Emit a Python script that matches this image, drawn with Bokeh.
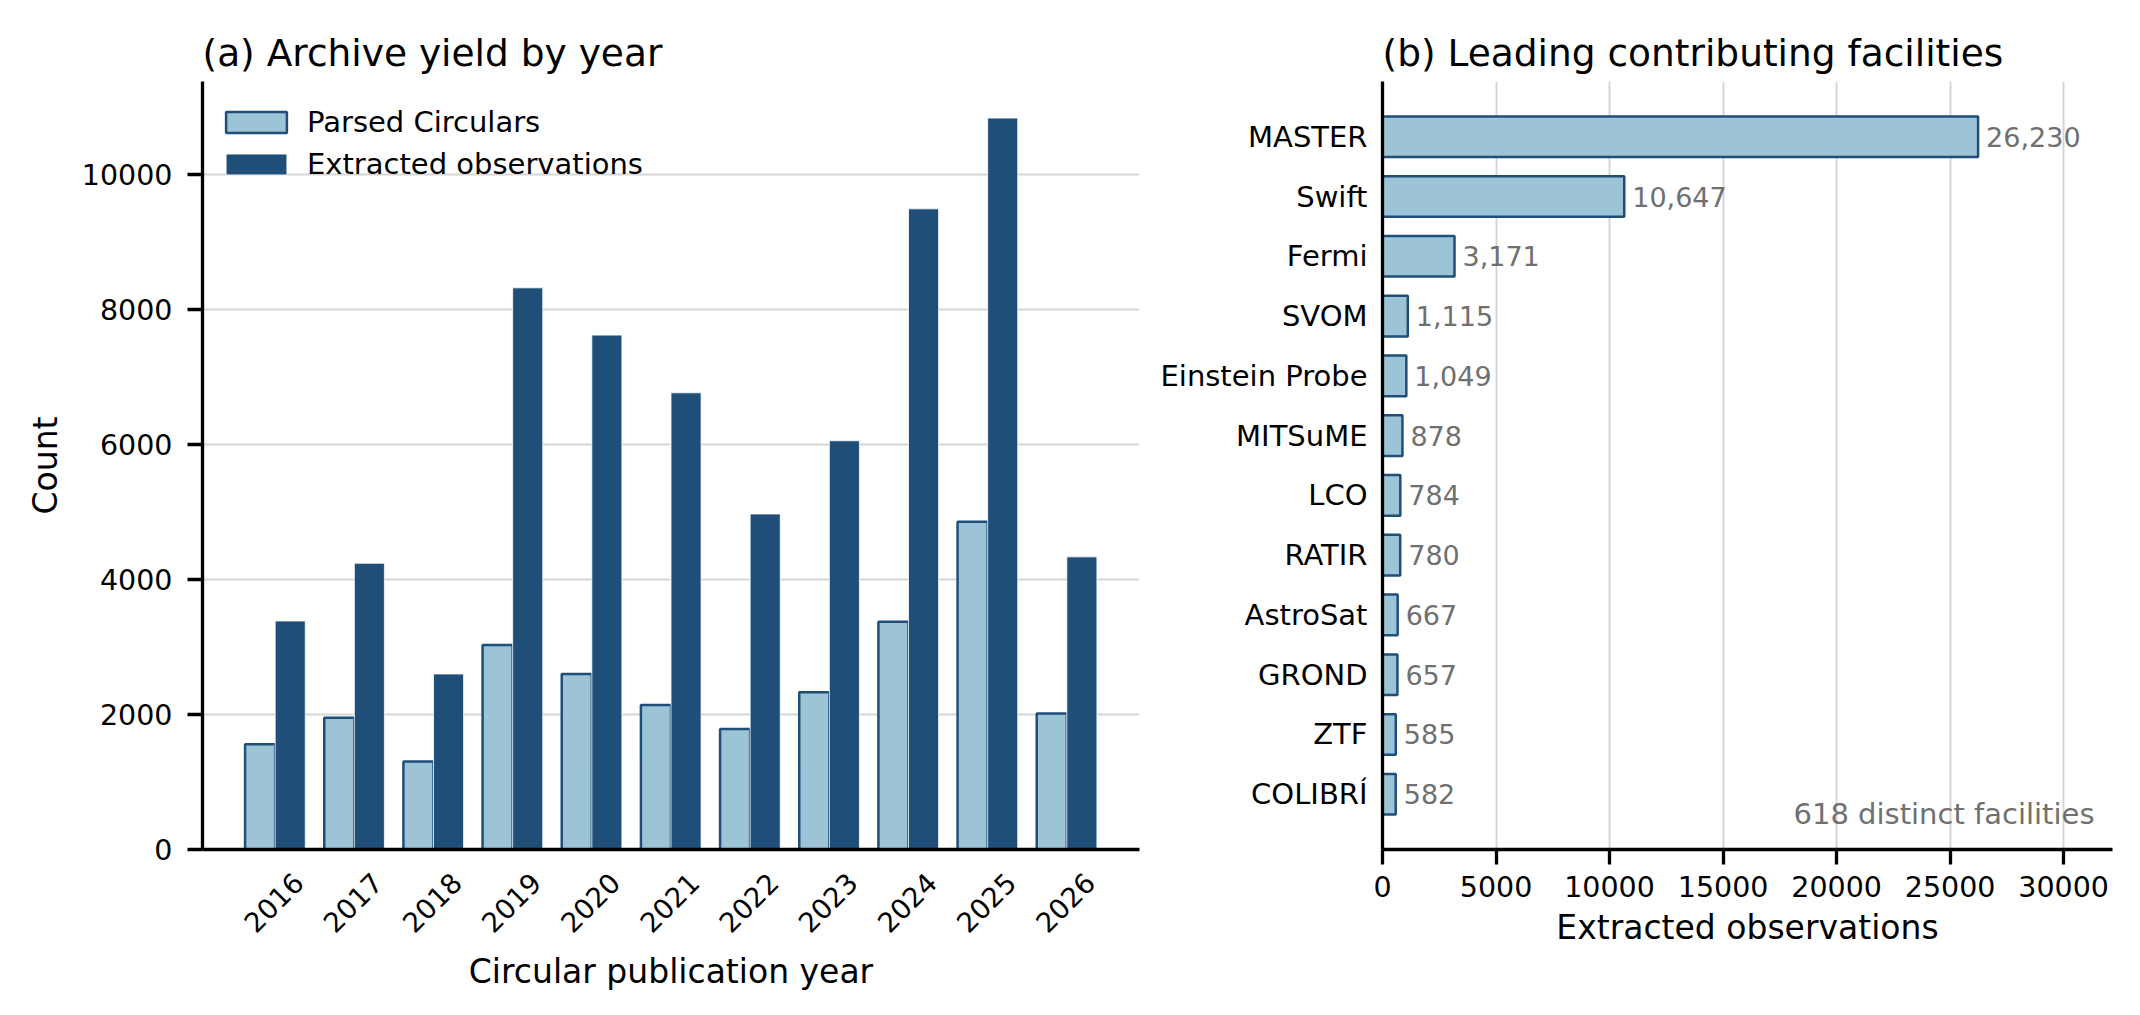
import math
from bokeh.plotting import figure
from bokeh.models import (ColumnDataSource, FactorRange, Range1d, SingleIntervalTicker,
                          FixedTicker, LinearAxis, Label, Legend, Grid)
from bokeh.transform import dodge
from bokeh.layouts import row
from bokeh.embed import file_html
from bokeh.resources import INLINE
from bokeh.core.properties import value

# ---------------- data ----------------
years = ["2016", "2017", "2018", "2019", "2020", "2021", "2022", "2023", "2024", "2025", "2026"]
parsed_circulars = [1560, 1950, 1305, 3030, 2600, 2140, 1785, 2330, 3375, 4855, 2015]
extracted_obs = [3385, 4240, 2600, 8320, 7620, 6765, 4970, 6055, 9490, 10835, 4335]

facilities = ["MASTER", "Swift", "Fermi", "SVOM", "Einstein Probe", "MITSuME", "LCO",
              "RATIR", "AstroSat", "GROND", "ZTF", "COLIBRÍ"]
facility_obs = [26230, 10647, 3171, 1115, 1049, 878, 784, 780, 667, 657, 585, 582]
distinct_facilities = 618

LIGHT = "#9dc3d6"
DARK = "#1f4e79"
GRID = "#d6d6d6"
GRAYTXT = "#707070"
FONT = "DejaVu Sans"

TITLE_FS = "37.5px"
TICK_FS = "28.5px"
AXLAB_FS = "33px"
SMALL_FS = "29px"
VAL_FS = "27px"
YEAR_FS = "27.5px"


def style_axis(ax):
    ax.axis_line_width = 3.3
    ax.axis_line_color = "black"
    ax.major_tick_line_width = 3.3
    ax.major_tick_line_color = "black"
    ax.minor_tick_line_color = None
    ax.major_tick_in = 0
    ax.major_label_text_font = FONT
    ax.major_label_text_font_size = TICK_FS
    ax.major_label_text_color = "black"
    ax.axis_label_text_font = FONT
    ax.axis_label_text_font_size = AXLAB_FS
    ax.axis_label_text_font_style = "normal"
    ax.axis_label_text_color = "black"


def style_common(p):
    p.toolbar_location = None
    p.outline_line_color = None
    p.background_fill_color = "white"
    p.border_fill_color = "white"
    p.title.text_font = FONT
    p.title.text_font_size = TITLE_FS
    p.title.text_font_style = "normal"
    p.title.text_color = "black"
    p.title.align = "left"
    p.title.standoff = 13
    for ax in p.axis:
        style_axis(ax)


# ---------------- panel (a) ----------------
n_years = len(years)
slot = [i + 0.5 for i in range(n_years)]          # category slot centres on the x scale
src_a = ColumnDataSource(dict(year=years, slot=slot,
                              parsed=parsed_circulars, extracted=extracted_obs))

PAD_A = 0.418
p1 = figure(width=1150, height=1015, output_backend="svg", toolbar_location=None,
            x_range=Range1d(-PAD_A, n_years + PAD_A),
            y_range=Range1d(0, max(extracted_obs) * 1.05),
            x_axis_location=None,
            title="(a) Archive yield by year",
            min_border_left=202, min_border_right=11, min_border_top=81, min_border_bottom=166)

r_p = p1.vbar(x=dodge("slot", -0.19), top="parsed", width=0.38, source=src_a,
              fill_color=LIGHT, line_color=DARK, line_width=2.5)
r_e = p1.vbar(x=dodge("slot", 0.19), top="extracted", width=0.38, source=src_a,
              fill_color=DARK, line_color="white", line_width=0.8)

# Year axis: labels rotated 45 degrees and centred under each bar pair, as in the original.
# Bokeh right-aligns rotated labels at the tick, so this axis uses a copy of the x scale
# moved by half a label's length (its tick marks are hidden).
shift = 0.29
p1.extra_x_ranges = {"yearlabels": Range1d(-PAD_A - shift, n_years + PAD_A - shift)}
year_axis = LinearAxis(x_range_name="yearlabels",
                       ticker=FixedTicker(ticks=slot),
                       major_label_overrides={s: y for s, y in zip(slot, years)},
                       axis_label="Circular publication year")
p1.add_layout(year_axis, "below")

style_common(p1)
year_axis.major_tick_out = 0
year_axis.major_label_orientation = math.pi / 4
year_axis.major_label_standoff = 28
year_axis.major_label_text_font_size = YEAR_FS
year_axis.axis_label_standoff = 7

for g in p1.select(type=Grid):
    if g.dimension == 0:
        g.visible = False
    else:
        g.grid_line_color = GRID
        g.grid_line_width = 2

p1.yaxis.ticker = SingleIntervalTicker(interval=2000)
p1.yaxis.major_tick_out = 15
p1.yaxis.major_label_standoff = 15
p1.yaxis.axis_label = "Count"
p1.yaxis.axis_label_standoff = 14

legend = Legend(items=[("Parsed Circulars", [r_p]), ("Extracted observations", [r_e])],
                location=(16, 668), margin=0, padding=0, spacing=8,
                glyph_width=76, glyph_height=26, label_standoff=13,
                label_text_font=FONT, label_text_font_size=SMALL_FS,
                label_text_color="black",
                border_line_color=None, background_fill_alpha=0)
p1.add_layout(legend)

# ---------------- panel (b) ----------------
labels_b = [f"{v:,}" for v in facility_obs]
src_b = ColumnDataSource(dict(facility=facilities, obs=facility_obs, lab=labels_b))

p2 = figure(width=990, height=1015, output_backend="svg", toolbar_location=None,
            y_range=FactorRange(*facilities[::-1], range_padding=0.424, range_padding_units="absolute"),
            x_range=Range1d(0, 32150),
            title="(b) Leading contributing facilities",
            min_border_left=232, min_border_right=28, min_border_top=81, min_border_bottom=166)

p2.hbar(y="facility", right="obs", left=0, height=0.68, source=src_b,
        fill_color=LIGHT, line_color=DARK, line_width=2.5)
p2.text(x="obs", y="facility", text="lab", source=src_b, x_offset=8,
        text_baseline="middle", text_align="left", text_font=value(FONT),
        text_font_size=VAL_FS, text_color=GRAYTXT)

style_common(p2)
p2.ygrid.grid_line_color = None
p2.xgrid.grid_line_color = GRID
p2.xgrid.grid_line_width = 2
p2.xaxis.ticker = SingleIntervalTicker(interval=5000)
p2.xaxis.major_tick_out = 15
p2.xaxis.major_label_standoff = 11
p2.xaxis.axis_label = "Extracted observations"
p2.xaxis.axis_label_standoff = 8
p2.yaxis.major_tick_out = 0
p2.yaxis.major_label_standoff = 15
p2.yaxis.major_label_text_font_size = SMALL_FS

note = Label(x=712, y=36, x_units="screen", y_units="screen",
             text=f"{distinct_facilities} distinct facilities", text_align="right",
             text_baseline="alphabetic", text_font=FONT, text_font_size=SMALL_FS,
             text_color=GRAYTXT)
p2.add_layout(note)

layout = row(p1, p2)
open("out.html", "w").write(file_html(layout, INLINE))
